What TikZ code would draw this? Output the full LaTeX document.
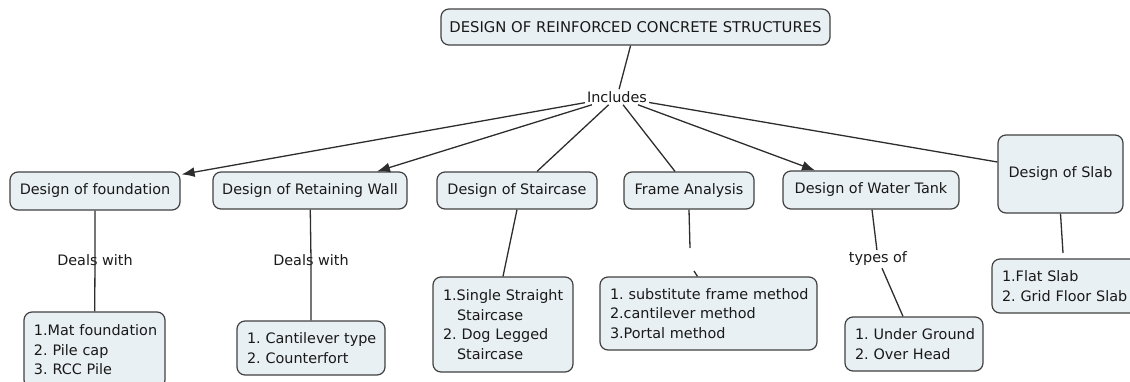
\documentclass[tikz,border=0pt]{standalone}
\usepackage{fontspec}
\setmainfont{DejaVu Sans}
\usetikzlibrary{arrows.meta}
\definecolor{boxfill}{RGB}{233,240,243}
\definecolor{boxline}{RGB}{65,65,65}
\definecolor{txt}{RGB}{25,25,25}
\definecolor{lnk}{RGB}{45,45,45}
\newcommand{\nbl}[1]{\mbox{#1}}
\frenchspacing
\begin{document}
\begin{tikzpicture}[x=1pt,y=-1pt,
  font=\fontsize{14.4}{19.5}\selectfont\frenchspacing,
  every node/.style={text=txt},
  concept/.style={draw=boxline, fill=boxfill, line width=1.2pt, rounded corners=8pt, inner sep=0pt, align=center},
  listbox/.style={draw=boxline, fill=boxfill, line width=1.2pt, rounded corners=8pt, inner xsep=10pt, inner ysep=0pt, align=left},
  linkword/.style={inner sep=2pt},
  conn/.style={draw=lnk, line width=1.3pt},
  arr/.style={conn, -{Latex[length=13pt,width=10pt]}}]
\useasboundingbox (0,0) rectangle (1130,381);

% concepts
\node[concept, minimum width=389pt, minimum height=36pt, font=\fontsize{14.8}{19.5}\selectfont] (title) at (635.5,27) {DESIGN OF REINFORCED CONCRETE STRUCTURES};
\node[linkword] (inc) at (617,97) {Includes};
\node[concept, minimum width=170pt, minimum height=38pt] (f) at (95,191) {Design of foundation};
\node[concept, minimum width=194pt, minimum height=37pt] (r) at (310,190.5) {Design of Retaining Wall};
\node[concept, minimum width=160pt, minimum height=37pt] (s) at (517,190.5) {Design of Staircase};
\node[concept, minimum width=130pt, minimum height=37pt] (fa) at (689,190.5) {Frame Analysis};
\node[concept, minimum width=176pt, minimum height=38pt] (w) at (871,190) {Design of Water Tank};
\node[concept, minimum width=125pt, minimum height=78pt] (sl) at (1060.5,174) {Design of Slab};

% lists
\node[listbox, text width=121pt, minimum height=76pt] (fc) at (94.5,350) {\nbl{1.Mat foundation}\\\nbl{2. Pile cap}\\\nbl{3. RCC Pile}};
\node[listbox, text width=128pt, minimum height=54pt] (rc) at (311,348) {\nbl{1. Cantilever type}\\\nbl{2. Counterfort}};
\node[listbox, text width=120pt, minimum height=95pt] (sc) at (503,324.5) {\nbl{1.Single Straight}\\\nbl{\hspace*{14pt}Staircase}\\\nbl{2. Dog Legged}\\\nbl{\hspace*{14pt}Staircase}};
\node[listbox, text width=197pt, minimum height=73pt] (fac) at (708.5,313.5) {\nbl{1. substitute frame method}\\\nbl{2.cantilever method}\\\nbl{3.Portal method}};
\node[listbox, text width=118pt, minimum height=54pt] (wc) at (914,344) {\nbl{1. Under Ground}\\\nbl{2. Over Head}};
\node[listbox, text width=128pt, minimum height=54pt] (slc) at (1066,286) {\nbl{1.Flat Slab}\\\nbl{2. Grid Floor Slab}};

% linking words
\node[linkword] (dw1) at (95,260) {Deals with};
\node[linkword] (dw2) at (311,260) {Deals with};
\node[linkword] (tp) at (878,259) {types of};
\coordinate (fa1) at (690,248);
\coordinate (fa2) at (694,271);
\coordinate (sl1) at (1063,253);

% connectors
\draw[conn] (title) -- (inc);
\draw[arr] (inc) -- ([xshift=1pt,yshift=-3pt]f.north east);
\draw[arr] (inc) -- ([xshift=67pt]r.north);
\draw[conn] (inc) -- ([xshift=20pt]s.north);
\draw[conn] (inc) -- ([xshift=-14pt]fa.north);
\draw[arr] (inc) -- ([xshift=-56pt]w.north);
\draw[conn] (inc) -- ([yshift=12pt]sl.west);

\draw[conn] (f) -- (dw1.center) -- (fc);
\draw[conn] (r) -- (dw2.center) -- (rc);
\draw[conn] (s.south) -- (sc.north);
\draw[conn] (fa.south) -- (fa1);
\draw[conn] (fa2) -- ([xshift=-11pt]fac.north);
\draw[conn] ([xshift=1pt]w.south) -- (tp) -- ([xshift=-11pt]wc.north);
\draw[conn] (sl.south) -- (sl1);
\end{tikzpicture}
\end{document}
